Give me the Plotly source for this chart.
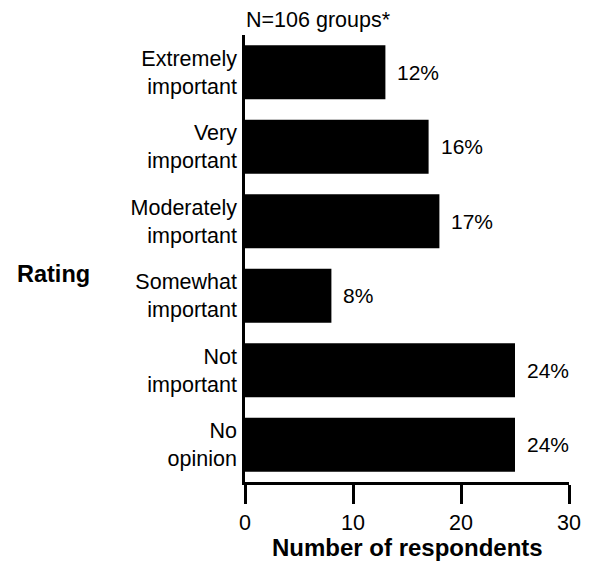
import plotly.graph_objects as go

categories = ["Extremely<br>important", "Very<br>important", "Moderately<br>important",
              "Somewhat<br>important", "Not<br>important", "No<br>opinion"]
counts = [13, 17, 18, 8, 25, 25]
pct_labels = ["12%", "16%", "17%", "8%", "24%", "24%"]
x_ticks = [0, 10, 20, 30]

FONT = "Arial, Liberation Sans, sans-serif"

fig = go.Figure()
fig.add_trace(go.Bar(
    x=counts, y=categories, orientation="h",
    marker=dict(color="black", line=dict(width=0)),
    width=0.725, showlegend=False, hoverinfo="skip",
))

for c, v, t in zip(categories, counts, pct_labels):
    fig.add_annotation(x=v, y=c, text=t, showarrow=False, xanchor="left",
                       xshift=10, font=dict(size=21, color="black", family=FONT))

fig.add_annotation(x=0, y=1, xref="paper", yref="paper", text="N=106 groups*",
                   showarrow=False, xanchor="left", yanchor="bottom", yshift=1, xshift=-1,
                   font=dict(size=21.5, color="black", family=FONT))
fig.add_annotation(x=-0.711, y=0.465, xref="paper", yref="paper",
                   text="<b>Rating</b>", showarrow=False, xanchor="left", yanchor="middle",
                   font=dict(size=23.5, color="black", family=FONT))
fig.add_annotation(x=0.5, y=0, xref="paper", yref="paper",
                   text="<b>Number of respondents</b>", showarrow=False,
                   xanchor="center", yanchor="top", yshift=-50,
                   font=dict(size=24, color="black", family=FONT))

fig.update_layout(
    width=581, height=558,
    margin=dict(l=237, r=20, t=27, b=84, autoexpand=False),
    plot_bgcolor="white", paper_bgcolor="white",
    font=dict(family=FONT, color="black"),
    xaxis=dict(range=[0, 30], tickvals=x_ticks, showgrid=False, zeroline=False,
               automargin=False,
               showline=True, linecolor="black", linewidth=2.5,
               ticks="outside", ticklen=19, tickwidth=2.5, tickcolor="black",
               tickfont=dict(size=21.5, family=FONT, color="black")),
    yaxis=dict(autorange="reversed", showgrid=False, zeroline=False,
               automargin=False,
               showline=True, linecolor="black", linewidth=2.5, ticks="",
               ticklabelstandoff=1,
               tickfont=dict(size=21.5, family=FONT, color="black")),
)

fig.write_html("out.html")
